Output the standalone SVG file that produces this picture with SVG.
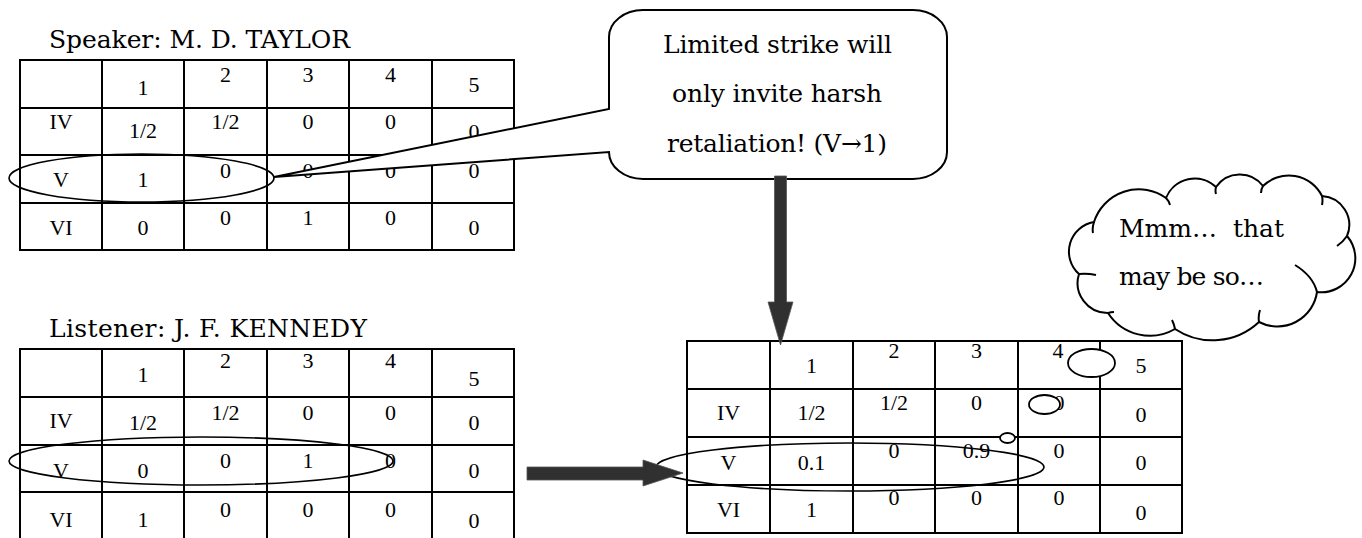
<svg xmlns="http://www.w3.org/2000/svg" width="1362" height="538" viewBox="0 0 1362 538">
<style>
.g line{stroke:#000;stroke-width:2}
.t{font-family:"Liberation Serif","Times New Roman",serif;font-size:22px;text-anchor:middle;fill:#000}
.c{font-family:"DejaVu Serif","Liberation Serif",serif;font-size:25px;fill:#000}
.m{text-anchor:middle}
.ov{fill:none;stroke:#000;stroke-width:1.6}
.wv{fill:#fff;stroke:#000;stroke-width:1.8}
.arr{fill:#303030;stroke:#555;stroke-width:0.8}
</style>
<rect width="1362" height="538" fill="#fff"/>

<text class="c" x="49" y="48" textLength="301">Speaker: M. D. TAYLOR</text>
<g id="table-speaker">
<g class="g">
<line x1="20" y1="60" x2="514" y2="60"/><line x1="20" y1="108" x2="514" y2="108"/><line x1="20" y1="155" x2="514" y2="155"/><line x1="20" y1="203" x2="514" y2="203"/><line x1="20" y1="250" x2="514" y2="250"/>
<line x1="20" y1="59" x2="20" y2="251"/><line x1="102" y1="59" x2="102" y2="251"/><line x1="184" y1="59" x2="184" y2="251"/><line x1="267" y1="59" x2="267" y2="251"/><line x1="349" y1="59" x2="349" y2="251"/><line x1="432" y1="59" x2="432" y2="251"/><line x1="514" y1="59" x2="514" y2="251"/>
</g>
<text class="t" x="143" y="95">1</text><text class="t" x="225.5" y="82">2</text><text class="t" x="308" y="82">3</text><text class="t" x="390.5" y="82">4</text><text class="t" x="474" y="92">5</text>
<text class="t" x="61" y="129">IV</text><text class="t" x="143" y="138">1/2</text><text class="t" x="225.5" y="129">1/2</text><text class="t" x="308" y="129">0</text><text class="t" x="390.5" y="129">0</text><text class="t" x="474" y="139">0</text>
<text class="t" x="61" y="187">V</text><text class="t" x="143" y="187">1</text><text class="t" x="225.5" y="178">0</text><text class="t" x="308" y="178">0</text><text class="t" x="390.5" y="178">0</text><text class="t" x="474" y="178">0</text>
<text class="t" x="61" y="235">VI</text><text class="t" x="143" y="235">0</text><text class="t" x="225.5" y="225">0</text><text class="t" x="308" y="225">1</text><text class="t" x="390.5" y="225">0</text><text class="t" x="474" y="235">0</text>
<ellipse class="ov" cx="141.5" cy="178" rx="132.5" ry="24"/>
</g>

<g id="speech-bubble">
<path d="M643,10 H913 A34,27 0 0 1 947,37 V152 A34,27 0 0 1 913,179 H643 A34,27 0 0 1 609,152 L274,177 L609,109 V37 A34,27 0 0 1 643,10 Z" fill="#fff" stroke="#000" stroke-width="2"/>
<text class="c m" x="777.5" y="53" textLength="229">Limited strike will</text>
<text class="c m" x="777" y="102" textLength="210">only invite harsh</text>
<text class="c m" x="777" y="152" textLength="220">retaliation! (V→1)</text>
</g>

<text class="c" x="49" y="337" textLength="318">Listener: J. F. KENNEDY</text>
<g id="table-listener">
<g class="g">
<line x1="20" y1="349" x2="514" y2="349"/><line x1="20" y1="397" x2="514" y2="397"/><line x1="20" y1="445" x2="514" y2="445"/><line x1="20" y1="492" x2="514" y2="492"/><line x1="20" y1="540" x2="514" y2="540"/>
<line x1="20" y1="348" x2="20" y2="541"/><line x1="102" y1="348" x2="102" y2="541"/><line x1="184" y1="348" x2="184" y2="541"/><line x1="267" y1="348" x2="267" y2="541"/><line x1="349" y1="348" x2="349" y2="541"/><line x1="432" y1="348" x2="432" y2="541"/><line x1="514" y1="348" x2="514" y2="541"/>
</g>
<text class="t" x="143" y="382">1</text><text class="t" x="225.5" y="368">2</text><text class="t" x="308" y="368">3</text><text class="t" x="390.5" y="368">4</text><text class="t" x="474" y="386">5</text>
<text class="t" x="61" y="428">IV</text><text class="t" x="143" y="430">1/2</text><text class="t" x="225.5" y="420">1/2</text><text class="t" x="308" y="420">0</text><text class="t" x="390.5" y="420">0</text><text class="t" x="474" y="430">0</text>
<text class="t" x="61" y="478">V</text><text class="t" x="143" y="478">0</text><text class="t" x="225.5" y="468">0</text><text class="t" x="308" y="468">1</text><text class="t" x="390.5" y="468">0</text><text class="t" x="474" y="478">0</text>
<text class="t" x="61" y="527">VI</text><text class="t" x="143" y="527">1</text><text class="t" x="225.5" y="517">0</text><text class="t" x="308" y="517">0</text><text class="t" x="390.5" y="517">0</text><text class="t" x="474" y="528">0</text>
<ellipse class="ov" cx="201" cy="461" rx="192" ry="24"/>
</g>

<g id="table-result">
<g class="g">
<line x1="687" y1="341" x2="1182" y2="341"/><line x1="687" y1="389" x2="1182" y2="389"/><line x1="687" y1="437" x2="1182" y2="437"/><line x1="687" y1="485" x2="1182" y2="485"/><line x1="687" y1="533" x2="1182" y2="533"/>
<line x1="687" y1="340" x2="687" y2="534"/><line x1="770" y1="340" x2="770" y2="534"/><line x1="853" y1="340" x2="853" y2="534"/><line x1="935" y1="340" x2="935" y2="534"/><line x1="1018" y1="340" x2="1018" y2="534"/><line x1="1100" y1="340" x2="1100" y2="534"/><line x1="1182" y1="340" x2="1182" y2="534"/>
</g>
<text class="t" x="811.5" y="373">1</text><text class="t" x="894" y="358">2</text><text class="t" x="976.5" y="358">3</text><text class="t" x="1058" y="358">4</text><text class="t" x="1141" y="373">5</text>
<text class="t" x="728.5" y="420">IV</text><text class="t" x="811.5" y="420">1/2</text><text class="t" x="894" y="410">1/2</text><text class="t" x="976.5" y="410">0</text><text class="t" x="1059" y="410">0</text><text class="t" x="1141" y="422">0</text>
<text class="t" x="728.5" y="470">V</text><text class="t" x="811.5" y="470">0.1</text><text class="t" x="894" y="458">0</text><text class="t" x="976.5" y="458">0.9</text><text class="t" x="1059" y="458">0</text><text class="t" x="1141" y="470">0</text>
<text class="t" x="728.5" y="517">VI</text><text class="t" x="811.5" y="517">1</text><text class="t" x="894" y="505">0</text><text class="t" x="976.5" y="505">0</text><text class="t" x="1059" y="505">0</text><text class="t" x="1141" y="520">0</text>
<ellipse class="ov" cx="850" cy="467" rx="194" ry="24"/>
</g>

<g id="connectors">
<polygon class="arr" points="774.5,176 786.5,176 786.5,302 793,302 780.5,345 768,302 774.5,302"/>
<polygon class="arr" points="527,467 643,467 643,460 683,473 643,486 643,480 527,480"/>
</g>

<g id="thought-cloud">
<ellipse class="wv" cx="1007.5" cy="438" rx="7.5" ry="5"/>
<ellipse class="wv" cx="1044.5" cy="404.5" rx="15.5" ry="9.5"/>
<ellipse class="wv" cx="1091.5" cy="363" rx="23.5" ry="14"/>
<path d="M1094,222 A47,47 0 0 1 1166,198 A31,31 0 0 1 1216,187 A29,29 0 0 1 1263,186 A37,37 0 0 1 1322,196 A29,29 0 0 1 1347,236 A34,34 0 0 1 1317,292 A40,40 0 0 1 1259,322 A68,68 0 0 1 1175,329 A50,50 0 0 1 1108,313 A30,30 0 0 1 1079,274 A30,30 0 0 1 1094,222 Z" fill="#fff" stroke="#000" stroke-width="2"/>
<path d="M1094,222 q-2,6 -1,11 M1166,198 q3,3 4,7 M1216,187 q-1,4 0,7 M1263,186 q-2,3 -2,7 M1322,196 q1,4 0,9 M1347,236 q-4,6 -10,10 M1317,292 q-4,-16 -22,-27 M1259,322 q-1,-6 1,-12 M1175,329 q-1,-5 -3,-9 M1108,313 q3,-1 6,-1 M1079,274 q8,-1 17,1" fill="none" stroke="#000" stroke-width="2"/>
<text class="c" x="1119" y="237" textLength="165" xml:space="preserve">Mmm…  that</text>
<text class="c" x="1119" y="285" textLength="145">may be so…</text>
</g>
</svg>
